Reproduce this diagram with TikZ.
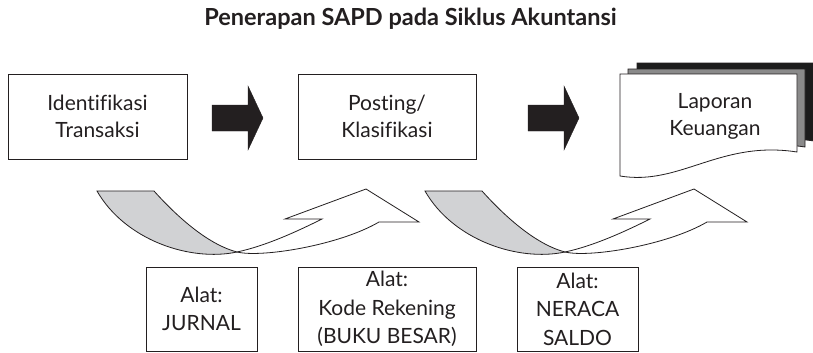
\documentclass[tikz,border=0pt]{standalone}
\usepackage{fontspec}
\setmainfont{Lato}[Ligatures=NoCommon]
\usetikzlibrary{backgrounds}
\definecolor{ink}{HTML}{231F20}
\definecolor{ribbongray}{HTML}{D1D2D4}
\definecolor{shade}{HTML}{8A8A8A}
\definecolor{darkdoc}{HTML}{1C1C1C}
\newcommand{\bodyfont}{\fontsize{21}{26.5}\selectfont}
\newcommand{\toolfont}{\fontsize{21}{28.5}\selectfont}
\tikzset{
  box/.style={draw=ink, line width=0.8pt, fill=white, inner sep=0pt, align=center, font=\bodyfont, text=ink},
  toolbox/.style={box, font=\toolfont, minimum height=84pt},
  blockarrow/.style={fill=ink, draw=ink, line width=0.4pt, line join=miter},
  ribbonline/.style={draw=ink, line width=0.8pt},
  docline/.style={draw=ink, line width=0.8pt},
  ribbon/.pic={
    \path[ribbonline, fill=ribbongray] (0,0) -- (57,0) .. controls (83,29) and (113,54) .. (140,61)
       .. controls (93,71) and (28,49) .. (0,0) -- cycle;
    \path[ribbonline, fill=white] (140,61) .. controls (170,54.6) and (203,39) .. (225,28)
       -- (188,28) -- (269,-2) -- (322,31) -- (282,31)
       .. controls (243,54) and (165,67) .. (140,61) -- cycle;
  }
}
\newcommand{\docpath}{(620,74) -- (797,74) -- (797,152) .. controls (720,140) and (680,186) .. (620,176) -- cycle}
\newcommand{\blockarrowpath}[1]{(#1) ++(0,-13) -- ++(36,0) -- ++(0,-19) -- ++(15,32) -- ++(-15,32) -- ++(0,-19) -- ++(-36,0) -- cycle}
\begin{document}
\begin{tikzpicture}[x=1pt,y=-1pt]
\useasboundingbox (0,0) rectangle (813,353);
\fill[white] (0,0) rectangle (813,353);

% title
\node[font=\fontsize{23.5}{26}\selectfont\bfseries, text=ink, anchor=base] (title) at (410.5,26) {Penerapan SAPD pada Siklus Akuntansi};

% stage 1
\node[box, minimum width=179pt, minimum height=85pt] (idt) at (97.5,116.5) {Identifikasi\\Transaksi};

% stage 2 with shadow
\node[box, minimum width=178pt, minimum height=85pt] (post) at (387,116.5) {Posting/\\Klasifikasi};
\begin{scope}[on background layer]
  \path[fill=shade, draw=ink, line width=0.8pt] ([shift={(7pt,5pt)}]post.south west) rectangle ([shift={(7pt,5pt)}]post.north east);
\end{scope}

% stage 3: stacked documents
\begin{scope}[shift={(17,-11)}]
  \path[docline, fill=darkdoc] \docpath;
\end{scope}
\begin{scope}[shift={(8,-5)}]
  \path[docline, fill=shade] \docpath;
\end{scope}
\path[docline, fill=white] \docpath;
\node[font=\bodyfont, text=ink, align=center, inner sep=0pt] (lap) at (715,116.5) {Laporan\\Keuangan};

% block arrows
\coordinate (arr1) at (212,118);
\coordinate (arr2) at (528,118);
\path[blockarrow] \blockarrowpath{arr1};
\path[blockarrow] \blockarrowpath{arr2};

% curved ribbons
\pic at (97,191) {ribbon};
\pic at (425,191) {ribbon};

% tools
\node[toolbox, minimum width=111pt] (jurnal) at (201.5,309) {Alat:\\JURNAL};
\node[toolbox, minimum width=178pt] (kode) at (387,309) {Alat:\\Kode Rekening\\(BUKU BESAR)};
\node[toolbox, minimum width=121pt] (neraca) at (577.5,309) {Alat:\\NERACA\\SALDO};
\end{tikzpicture}
\end{document}
